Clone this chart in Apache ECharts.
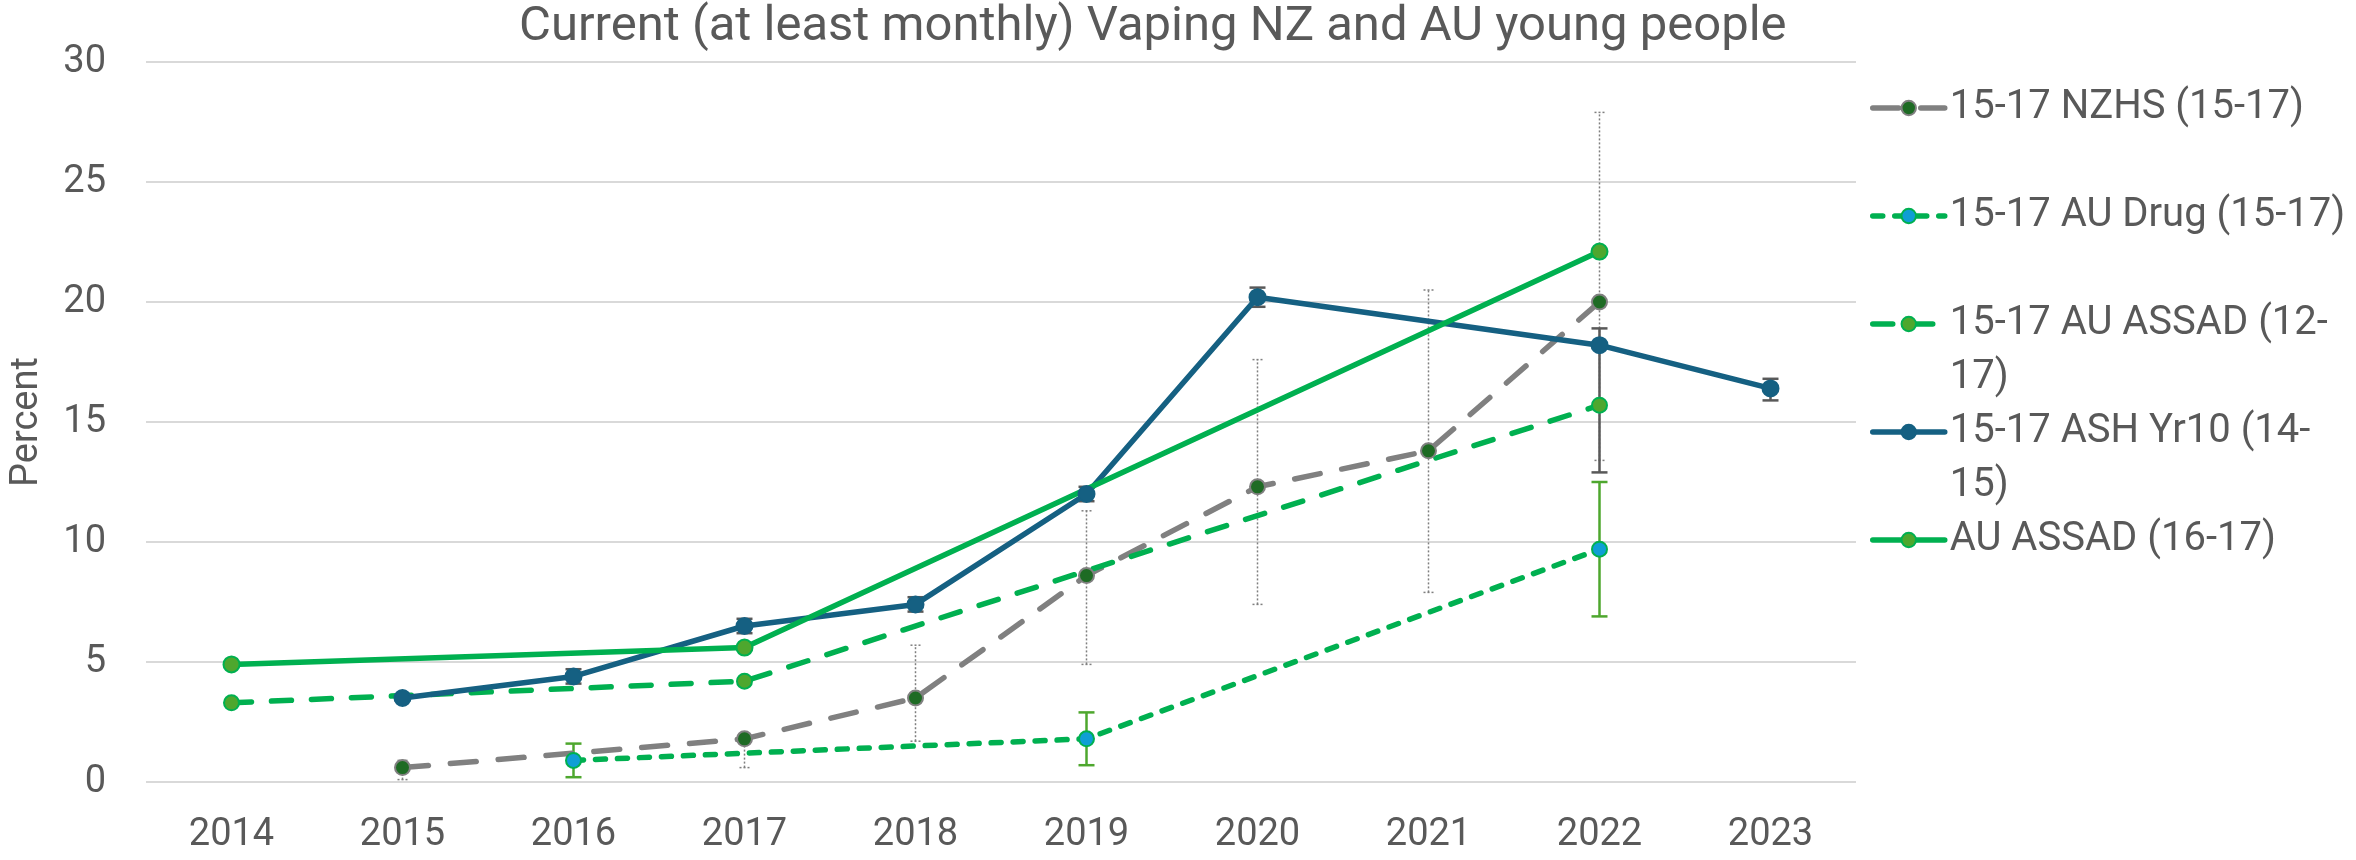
<!DOCTYPE html>
<html lang="en">
<head>
<meta charset="UTF-8">
<title>Current vaping NZ and AU young people</title>
<script src="https://cdn.jsdelivr.net/npm/echarts@6/dist/echarts.min.js"></script>
<style>
    html, body { margin: 0; padding: 0; background: #fff; }
    #main { width: 2356px; height: 860px; }
</style>
</head>
<body>
<div id="main"></div>
<script>
// years on the x axis
var years = ['2014', '2015', '2016', '2017', '2018', '2019', '2020', '2021', '2022', '2023'];

// 15-17 NZHS (15-17)
var nzhs     = [null, 0.6, null, 1.8, 3.5, 8.6, 12.3, 13.8, 20.0, null];
var nzhsLow  = [null, 0.1, null, 0.6, 1.7, 4.9, 7.4, 7.9, 13.4, null];
var nzhsHigh = [null, 0.9, null, 2.0, 5.7, 11.3, 17.6, 20.5, 27.9, null];

// 15-17 AU Drug (15-17)
var auDrug     = [null, null, 0.9, null, null, 1.8, null, null, 9.7, null];
var auDrugLow  = [null, null, 0.2, null, null, 0.7, null, null, 6.9, null];
var auDrugHigh = [null, null, 1.6, null, null, 2.9, null, null, 12.5, null];

// 15-17 AU ASSAD (12-17)
var assad1217 = [3.3, null, null, 4.2, null, null, null, null, 15.7, null];

// 15-17 ASH Yr10 (14-15)
var ashYr10  = [null, 3.5, 4.4, 6.5, 7.4, 12.0, 20.2, null, 18.2, 16.4];
var ashLow   = [null, 3.4, 4.1, 6.2, 7.1, 11.7, 19.8, null, 12.9, 15.9];
var ashHigh  = [null, 3.65, 4.7, 6.8, 7.7, 12.3, 20.6, null, 18.9, 16.8];

// AU ASSAD (16-17)
var assad1617 = [4.9, null, null, 5.6, null, null, null, null, 22.1, null];

var names = ['15-17 NZHS (15-17)', '15-17 AU Drug (15-17)', '15-17 AU ASSAD (12-17)',
             '15-17 ASH Yr10 (14-15)', 'AU ASSAD (16-17)'];
// how Excel wrapped the legend text
var legendLines = {
    '15-17 NZHS (15-17)': ['15-17 NZHS (15-17)', ' '],
    '15-17 AU Drug (15-17)': ['15-17 AU Drug (15-17)', ' '],
    '15-17 AU ASSAD (12-17)': ['15-17 AU ASSAD (12-', '17)'],
    '15-17 ASH Yr10 (14-15)': ['15-17 ASH Yr10 (14-', '15)'],
    'AU ASSAD (16-17)': ['AU ASSAD (16-17)', ' ']
};

var FONT = 'Roboto';
var TEXT = '#595959';

function errorBars(low, high, color, width, dash, capW) {
    var data = [];
    low.forEach(function (v, i) {
        if (v != null) data.push([i, v, high[i]]);
    });
    return {
        type: 'custom',
        silent: true,
        z: 1,
        data: data,
        encode: { x: 0, y: [1, 2] },
        renderItem: function (params, api) {
            var x = api.value(0);
            var lo = api.coord([x, api.value(1)]);
            var hi = api.coord([x, api.value(2)]);
            function st() {
                return { stroke: color, lineWidth: width, lineDash: dash };
            }
            return {
                type: 'group',
                children: [
                    { type: 'line', shape: { x1: lo[0], y1: lo[1], x2: hi[0], y2: hi[1] }, style: st() },
                    { type: 'line', shape: { x1: lo[0] - capW, y1: lo[1], x2: lo[0] + capW, y2: lo[1] }, style: st() },
                    { type: 'line', shape: { x1: hi[0] - capW, y1: hi[1], x2: hi[0] + capW, y2: hi[1] }, style: st() }
                ]
            };
        }
    };
}

function lineSeries(name, data, lineColor, dash, markColor, markBorder, size) {
    return {
        name: name,
        type: 'line',
        data: data,
        connectNulls: true,
        symbol: 'circle',
        symbolSize: size,
        z: 3,
        lineStyle: { color: lineColor, width: 5.5, type: dash, cap: 'round' },
        itemStyle: { color: markColor, borderColor: markBorder, borderWidth: 2 }
    };
}

var myChart = echarts.init(document.getElementById('main'));
myChart.setOption({
    backgroundColor: '#fff',
    animation: false,
    title: {
        text: 'Current (at least monthly) Vaping NZ and AU young people',
        left: 519,
        top: 3,
        padding: 0,
        textStyle: { fontFamily: FONT, fontSize: 49, fontWeight: 'normal', color: TEXT }
    },
    grid: { left: 139, right: 500, top: 62, bottom: 78 },
    legend: {
        orient: 'vertical',
        left: 1870,
        top: 27,
        padding: 0,
        itemGap: -54,
        itemWidth: 72,
        itemHeight: 18,
        data: names,
        lineStyle: { width: 5.5 },
        formatter: function (n) {
            var l = legendLines[n];
            return ' \n' + l[0] + '\n' + l[1];
        },
        textStyle: { fontFamily: FONT, fontSize: 40, color: TEXT, lineHeight: 54 }
    },
    xAxis: {
        type: 'category',
        data: years,
        boundaryGap: true,
        axisLine: { show: false },
        axisTick: { show: false },
        axisLabel: { fontFamily: FONT, fontSize: 38, color: TEXT, margin: 34 }
    },
    yAxis: {
        type: 'value',
        min: 0,
        max: 30,
        interval: 5,
        name: 'Percent',
        nameLocation: 'middle',
        nameGap: 100,
        nameTextStyle: { fontFamily: FONT, fontSize: 38, color: TEXT },
        axisLabel: { fontFamily: FONT, fontSize: 38, color: TEXT, margin: 40 },
        splitLine: { lineStyle: { color: '#D9D9D9', width: 2 } }
    },
    series: [
        errorBars(nzhsLow, nzhsHigh, '#7F7F7F', 1.5, [2, 2], 5),
        errorBars(auDrugLow, auDrugHigh, '#4EA72E', 2.5, null, 8),
        errorBars(ashLow, ashHigh, '#595959', 2.5, null, 8),
        lineSeries(names[0], nzhs, '#808080', [26, 22], '#1E6B24', '#808080', 15),
        lineSeries(names[1], auDrug, '#00B050', [10, 12], '#0F9ED5', '#00B050', 15),
        lineSeries(names[2], assad1217, '#00B050', [20, 20], '#4EA72E', '#00B050', 15),
        lineSeries(names[3], ashYr10, '#156082', 'solid', '#156082', '#156082', 16),
        lineSeries(names[4], assad1617, '#00B050', 'solid', '#4EA72E', '#00B050', 16)
    ]
});
</script>
</body>
</html>
